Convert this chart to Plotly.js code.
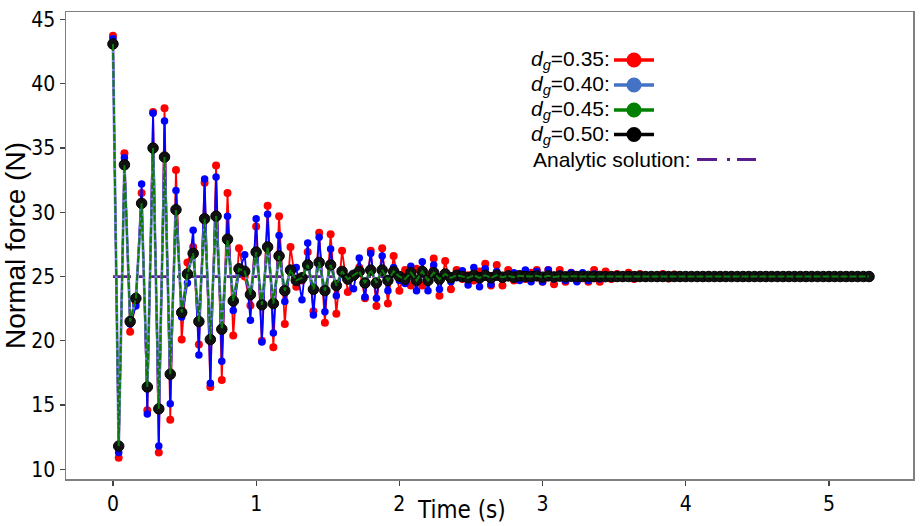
<!DOCTYPE html>
<html><head><meta charset="utf-8">
<script src="https://cdn.plot.ly/plotly-3.0.1.min.js"></script>
<style>html,body{margin:0;padding:0;background:#fff}#chart{width:921px;height:526px}</style>
</head><body><div id="chart"></div>
<script>
const time = [0,0.04,0.08,0.12,0.16,0.2,0.24,0.28,0.32,0.36,
0.4,0.44,0.48,0.52,0.56,0.6,0.64,0.68,0.72,0.76,
0.8,0.84,0.88,0.92,0.96,1,1.04,1.08,1.12,1.16,
1.2,1.24,1.28,1.32,1.36,1.4,1.44,1.48,1.52,1.56,
1.6,1.64,1.68,1.72,1.76,1.8,1.84,1.88,1.92,1.96,
2,2.04,2.08,2.12,2.16,2.2,2.24,2.28,2.32,2.36,
2.4,2.44,2.48,2.52,2.56,2.6,2.64,2.68,2.72,2.76,
2.8,2.84,2.88,2.92,2.96,3,3.04,3.08,3.12,3.16,
3.2,3.24,3.28,3.32,3.36,3.4,3.44,3.48,3.52,3.56,
3.6,3.64,3.68,3.72,3.76,3.8,3.84,3.88,3.92,3.96,
4,4.04,4.08,4.12,4.16,4.2,4.24,4.28,4.32,4.36,
4.4,4.44,4.48,4.52,4.56,4.6,4.64,4.68,4.72,4.76,
4.8,4.84,4.88,4.92,4.96,5,5.04,5.08,5.12,5.16,
5.2,5.24,5.28];

const force_dg035 = [43.75,10.9,34.6,20.7,23.0,31.5,14.6,37.8,11.3,38.1,
13.85,33.3,20.1,26.1,27.3,19.7,32.3,16.4,33.65,16.95,
31.5,20.4,27.2,25.0,22.75,28.9,20.0,30.5,19.5,29.7,
21.3,27.3,24.2,24.7,26.9,22.3,28.4,21.4,28.3,22.1,
27.0,23.8,25.1,25.7,23.3,27.0,22.7,27.2,22.9,26.6,
23.9,25.5,24.3,25.6,24.3,25.0,26.4,23.5,26.2,24.0,
25.5,24.8,25.1,24.7,25.4,26.0,24.3,25.9,24.3,25.5,
24.7,25.2,24.8,25.3,25.5,24.6,25.5,24.4,25.5,24.6,
25.3,24.7,25.1,24.6,25.5,24.6,25.4,24.8,25.2,24.9,
25.3,24.8,25.2,24.9,25.1,24.9,25.2,24.85,25.15,24.9,
25.1,24.95,25.05,24.9,25.1,24.95,25.05,24.95,25.1,24.95,
25.05,24.95,25.05,25.0,25.1,24.95,25.05,24.97,25.03,24.98,
25.02,24.98,25.02,24.99,25.01,24.99,25.01,25.0,25.0,25.0,
25.0,25.0,25.0];

const force_dg040 = [43.5,11.3,34.25,21.3,22.7,32.2,14.3,37.7,11.8,37.1,
15.1,31.7,21.85,24.5,28.6,18.9,32.6,16.7,32.75,18.4,
29.7,22.35,25.3,26.7,21.6,29.5,19.9,29.85,20.6,28.2,
23.05,25.6,25.7,23.2,27.6,22.0,28.05,22.25,27.15,23.5,
25.4,24.7,24.05,26.45,23.4,26.8,23.3,26.6,23.9,25.7,
24.7,24.45,25.8,23.9,26.15,23.9,25.9,24.0,25.3,24.6,
24.9,25.45,24.35,25.7,24.2,25.6,24.4,25.4,24.8,25.1,
25.3,24.7,25.5,24.6,25.4,24.6,25.5,24.8,25.2,24.7,
25.3,24.6,25.3,24.7,25.2,24.8,25.1,24.9,25.1,24.9,
25.1,24.9,25.1,24.95,25.05,24.95,25.05,24.97,25.03,24.97,
25.03,24.98,25.02,24.98,25.02,24.99,25.01,24.99,25.01,25.0,
25.0,25.0,25.0,25.0,25.0,25.0,25.0,25.0,25.0,25.0,
25.0,25.0,25.0,25.0,25.0,25.0,25.0,25.0,25.0,25.0,
25.0,25.0,25.0];

const force_dg045 = [43.1,11.8,33.7,21.5,23.3,30.7,16.4,35.0,14.7,34.3,
17.4,30.2,22.2,25.2,26.8,21.5,29.5,20.1,29.7,20.9,
27.9,23.1,25.6,25.4,23.6,26.9,22.8,27.3,22.9,26.6,
23.9,25.5,24.7,24.9,25.9,24.0,26.1,23.9,25.9,24.3,
25.4,24.8,25.1,25.4,24.5,25.5,24.5,25.5,24.7,25.4,
25.0,24.8,25.3,24.7,25.4,24.7,25.3,24.8,25.2,24.9,
25.1,25.0,24.9,25.1,24.9,25.1,24.9,25.1,24.95,25.05,
24.95,25.05,25.0,25.0,25.05,24.95,25.05,24.97,25.03,24.98,
25.02,25.0,25.0,25.01,24.99,25.01,24.99,25.0,25.0,25.0,
25.0,25.0,25.0,25.0,25.0,25.0,25.0,25.0,25.0,25.0,
25.0,25.0,25.0,25.0,25.0,25.0,25.0,25.0,25.0,25.0,
25.0,25.0,25.0,25.0,25.0,25.0,25.0,25.0,25.0,25.0,
25.0,25.0,25.0,25.0,25.0,25.0,25.0,25.0,25.0,25.0,
25.0,25.0,25.0];

const force_dg050 = [43.1,11.8,33.7,21.5,23.3,30.7,16.4,35.0,14.7,34.3,
17.4,30.2,22.2,25.2,26.8,21.5,29.5,20.1,29.7,20.9,
27.9,23.1,25.6,25.4,23.6,26.9,22.8,27.3,22.9,26.6,
23.9,25.5,24.7,24.9,25.9,24.0,26.1,23.9,25.9,24.3,
25.4,24.8,25.1,25.4,24.5,25.5,24.5,25.5,24.7,25.4,
25.0,24.8,25.3,24.7,25.4,24.7,25.3,24.8,25.2,24.9,
25.1,25.0,24.9,25.1,24.9,25.1,24.9,25.1,24.95,25.05,
24.95,25.05,25.0,25.0,25.05,24.95,25.05,24.97,25.03,24.98,
25.02,25.0,25.0,25.01,24.99,25.01,24.99,25.0,25.0,25.0,
25.0,25.0,25.0,25.0,25.0,25.0,25.0,25.0,25.0,25.0,
25.0,25.0,25.0,25.0,25.0,25.0,25.0,25.0,25.0,25.0,
25.0,25.0,25.0,25.0,25.0,25.0,25.0,25.0,25.0,25.0,
25.0,25.0,25.0,25.0,25.0,25.0,25.0,25.0,25.0,25.0,
25.0,25.0,25.0];

const analyticTime = [0, 5.28];
const analyticForce = [25, 25];

const legendLabels = ['<i>d</i><sub><i>g</i></sub>=0.35:', '<i>d</i><sub><i>g</i></sub>=0.40:',
                      '<i>d</i><sub><i>g</i></sub>=0.45:', '<i>d</i><sub><i>g</i></sub>=0.50:'];
const legendColors = ['#ff0000', '#4472c4', '#008000', '#000000'];
const analyticLabel = 'Analytic solution:';

const xTitle = 'Time (s)';
const yTitle = 'Normal force (N)';

const narrow = '"Liberation Sans Narrow", "DejaVu Sans Condensed", "Arial Narrow", "Liberation Sans", sans-serif';
const regular = '"Liberation Sans", Arial, sans-serif';

const traces = [
  {x: analyticTime, y: analyticForce, mode: 'lines', name: analyticLabel,
   line: {color: '#5a1e8c', width: 2.8, dash: '18px,8px,4px,8px'}, showlegend: false},
  {x: time, y: force_dg035, mode: 'lines+markers', name: 'dg=0.35',
   line: {color: '#ff0000', width: 1.8}, marker: {color: '#ff0000', size: 8}, showlegend: false},
  {x: time, y: force_dg040, mode: 'lines+markers', name: 'dg=0.40',
   line: {color: '#0000ff', width: 1.8}, marker: {color: '#0000ff', size: 7.5}, showlegend: false},
  {x: time, y: force_dg050, mode: 'lines+markers', name: 'dg=0.50',
   line: {color: '#7f7fe6', width: 2.8}, marker: {color: '#111111', size: 10.5, line: {color: '#000', width: 1}}, showlegend: false},
  {x: time, y: force_dg045, mode: 'lines', name: 'dg=0.45',
   line: {color: '#0c7a0c', width: 2, dash: '7px,2px'}, showlegend: false}
];

// plot-area geometry in pixels (used only for placing the hand-made legend and x title)
const L = 66, T = 12, W = 847, H = 467;
const px = v => (v - L) / W;
const py = v => (T + H - v) / H;

const rowY = [60, 85, 110, 134.5];
const shapes = [];
const annotations = [];
rowY.forEach((yy, i) => {
  shapes.push({type: 'line', xref: 'paper', yref: 'paper', x0: px(614), x1: px(654), y0: py(yy), y1: py(yy),
               line: {color: legendColors[i], width: 3.5}});
  shapes.push({type: 'circle', xref: 'paper', yref: 'paper', x0: px(626.5), x1: px(641.5), y0: py(yy + 7.5), y1: py(yy - 7.5),
               fillcolor: legendColors[i], line: {color: legendColors[i], width: 0}});
  annotations.push({xref: 'paper', yref: 'paper', x: px(612), y: py(yy), xanchor: 'right', yanchor: 'middle',
                    text: legendLabels[i], showarrow: false, font: {family: regular, size: 21, color: '#000'}});
});
const aY = 159.5;
shapes.push({type: 'line', xref: 'paper', yref: 'paper', x0: px(697), x1: px(756), y0: py(aY), y1: py(aY),
             line: {color: '#5a1e8c', width: 3, dash: '20px,10px,3px,7px'}});
annotations.push({xref: 'paper', yref: 'paper', x: px(693), y: py(aY), xanchor: 'right', yanchor: 'middle',
                  text: analyticLabel, showarrow: false, font: {family: regular, size: 21, color: '#000'}});
// x-axis title, placed where the reference has it (left of centre, below the tick labels)
annotations.push({xref: 'paper', yref: 'paper', x: px(461), y: py(510), xanchor: 'center', yanchor: 'middle',
                  text: xTitle, showarrow: false, font: {family: narrow, size: 24, color: '#000'}});

const layout = {
  width: 921, height: 526,
  margin: {l: 66, r: 8, t: 12, b: 47, pad: 0},
  paper_bgcolor: '#fff', plot_bgcolor: '#fff',
  showlegend: false,
  xaxis: {range: [-0.328, 5.587], tickvals: [0,1,2,3,4,5], ticktext: ['0','1','2','3','4','5'],
          showgrid: false, zeroline: false, showline: true, mirror: true, linecolor: '#808080', linewidth: 1.5,
          ticks: 'outside', ticklen: 5, tickwidth: 1.2, tickcolor: '#444',
          tickfont: {family: narrow, size: 21, color: '#000'}},
  yaxis: {range: [9.24, 45.59], tickvals: [10,15,20,25,30,35,40,45], ticktext: ['10','15','20','25','30','35','40','45'],
          showgrid: false, zeroline: false, showline: true, mirror: true, linecolor: '#808080', linewidth: 1.5,
          ticks: 'outside', ticklen: 5, tickwidth: 1.2, tickcolor: '#444',
          tickfont: {family: narrow, size: 21, color: '#000'},
          title: {text: yTitle, font: {family: regular, size: 28, color: '#000'}, standoff: 6}},
  shapes: shapes,
  annotations: annotations
};

Plotly.newPlot('chart', traces, layout, {displayModeBar: false, staticPlot: true});
</script>
</body></html>
